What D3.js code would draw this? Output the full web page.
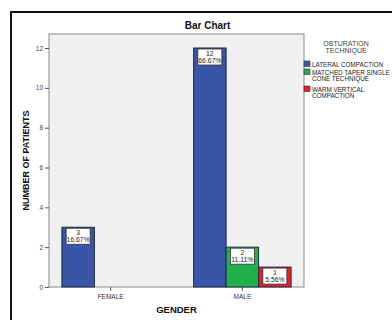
<!DOCTYPE html>
<html><head><meta charset="utf-8">
<script src="https://cdn.jsdelivr.net/npm/d3@7"></script>
<style>body{margin:0;background:#fff}svg{display:block}text{font-family:"Liberation Sans",Arial,sans-serif}</style>
</head><body>
<svg id="c" width="392" height="320"></svg>
<script>
const categories = ["FEMALE", "MALE"];
const seriesNames = ["LATERAL COMPACTION", "MATCHED TAPER SINGLE CONE TECHNIQUE", "WARM VERTICAL COMPACTION"];
const legendLines = [["LATERAL COMPACTION"], ["MATCHED TAPER SINGLE", "CONE TECHNIQUE"], ["WARM VERTICAL", "COMPACTION"]];
const femaleValues = [3, 0, 0];
const maleValues = [12, 2, 1];
const femalePct = ["16.67%", "", ""];
const malePct = ["66.67%", "11.11%", "5.56%"];
const yTicks = [0, 2, 4, 6, 8, 10, 12];
const colors = ["#3a54a6", "#21b04a", "#ee1d24"];

const svg = d3.select("#c");
// outer frame
svg.append("path").attr("d", "M11,330 L11,12 L400,12").attr("fill", "none").attr("stroke", "#111").attr("stroke-width", 2);

const L = 49, R = 304, T = 34, B = 287;
const x = d3.scaleBand().domain(categories).range([L, R]).paddingInner(0.26).paddingOuter(0.098);
const xs = d3.scaleBand().domain(d3.range(3)).range([0, x.bandwidth()]);
const y = d3.scaleLinear().domain([0, 12]).range([B, 48]);

svg.append("rect").attr("x", L).attr("y", T).attr("width", R - L).attr("height", B - T)
  .attr("fill", "#f0f0f0").attr("stroke", "#8a8a8a").attr("stroke-width", 1);

// y axis
const ya = svg.append("g").attr("transform", `translate(${L},0)`)
  .call(d3.axisLeft(y).tickValues(yTicks).tickSize(4).tickPadding(2));
ya.select(".domain").remove();
ya.selectAll("line").attr("stroke", "#555");
ya.selectAll("text").attr("font-size", 6.5).attr("fill", "#444");

// x axis
const xa = svg.append("g").attr("transform", `translate(0,${B})`)
  .call(d3.axisBottom(x).tickSize(4).tickPadding(3));
xa.select(".domain").remove();
xa.selectAll("line").attr("stroke", "#555");
xa.selectAll("text").attr("font-size", 6.5).attr("fill", "#333");

const data = [];
categories.forEach((c, ci) => {
  const vals = ci === 0 ? femaleValues : maleValues;
  const pcts = ci === 0 ? femalePct : malePct;
  vals.forEach((v, si) => { if (v > 0) data.push({c, si, v, p: pcts[si]}); });
});

const g = svg.append("g");
g.selectAll("rect.bar").data(data).join("rect").attr("class", "bar")
  .attr("x", d => x(d.c) + xs(d.si)).attr("y", d => y(d.v))
  .attr("width", xs.bandwidth()).attr("height", d => y(0) - y(d.v))
  .attr("fill", d => colors[d.si]).attr("stroke", "#1e2a4a").attr("stroke-width", 1);

const lb = g.selectAll("g.lab").data(data).join("g").attr("class", "lab")
  .attr("transform", d => `translate(${x(d.c) + xs(d.si) + xs.bandwidth() / 2},${y(d.v)})`);
lb.append("rect").attr("x", -12).attr("y", 1).attr("width", 24).attr("height", 16)
  .attr("fill", "#fff").attr("stroke", "#333").attr("stroke-width", 0.8);
lb.append("text").attr("y", 8).attr("text-anchor", "middle").attr("font-size", 6.8).attr("fill", "#222").text(d => d.v);
lb.append("text").attr("y", 15).attr("text-anchor", "middle").attr("font-size", 6.8).attr("fill", "#222").text(d => d.p);

// titles
svg.append("text").attr("x", (L + R) / 2 + 31).attr("y", 29).attr("text-anchor", "middle")
  .attr("font-size", 10).attr("font-weight", "bold").attr("fill", "#111").text("Bar Chart");
svg.append("text").attr("transform", `translate(29,${(T + B) / 2}) rotate(-90)`).attr("text-anchor", "middle")
  .attr("font-size", 9).attr("font-weight", "bold").attr("fill", "#111").text("NUMBER OF PATIENTS");
svg.append("text").attr("x", (L + R) / 2).attr("y", 313).attr("text-anchor", "middle")
  .attr("font-size", 9.5).attr("font-weight", "bold").attr("fill", "#111").text("GENDER");

// legend
const lg = svg.append("g");
lg.append("text").attr("x", 346).attr("y", 46).attr("text-anchor", "middle").attr("font-size", 7).attr("fill", "#444").text("OBTURATION");
lg.append("text").attr("x", 346).attr("y", 53).attr("text-anchor", "middle").attr("font-size", 7).attr("fill", "#444").text("TECHNIQUE");
const itemY = [61, 69, 86];
legendLines.forEach((lines, i) => {
  lg.append("rect").attr("x", 304).attr("y", itemY[i]).attr("width", 6).attr("height", 5.5)
    .attr("fill", colors[i]).attr("stroke", "#333").attr("stroke-width", 0.6);
  lines.forEach((t, j) => {
    lg.append("text").attr("x", 312).attr("y", itemY[i] + 5.5 + j * 6.5).attr("font-size", 6.3).attr("fill", "#222").text(t);
  });
});
</script>
</body></html>
